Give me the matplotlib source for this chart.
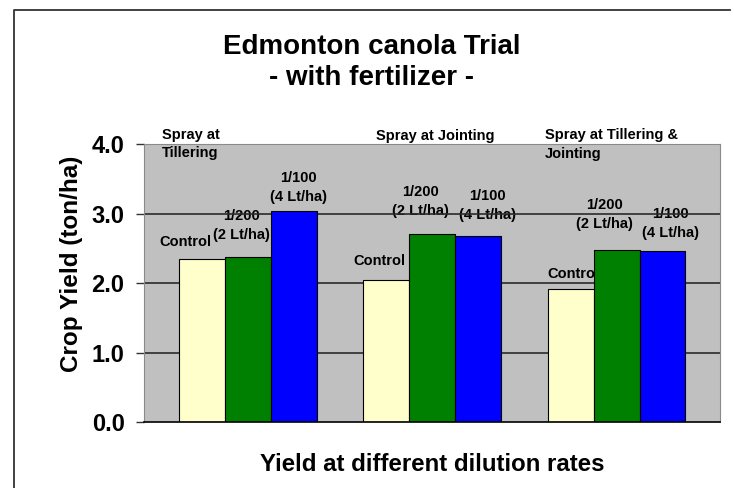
"""Edmonton canola trial: crop yield at different dilution rates (with fertilizer)."""

import matplotlib
matplotlib.use("Agg")
import matplotlib.pyplot as plt
from matplotlib.lines import Line2D
import numpy as np

plt.rcParams["font.family"] = ["Liberation Sans", "DejaVu Sans"]
plt.rcParams["font.weight"] = "bold"

# datos
grupos = ["Spray at\nTillering", "Spray at Jointing", "Spray at Tillering &\nJointing"]
tratamientos = ["Control", "1/200\n(2 Lt/ha)", "1/100\n(4 Lt/ha)"]
control = [2.35, 2.05, 1.92]
dil_200 = [2.37, 2.70, 2.48]
dil_100 = [3.04, 2.68, 2.46]
yticks = [0.0, 1.0, 2.0, 3.0, 4.0]

COLORES = ["#FFFFCC", "#008000", "#0000FF"]
ANCHO = 0.249

fig = plt.figure(figsize=(7.34, 4.88), dpi=100)
ax = fig.add_axes([0.1962, 0.1352, 0.7847, 0.5697])
ax.set_facecolor("#C0C0C0")

x = np.arange(len(grupos))
series = [control, dil_200, dil_100]
for i, (valores, color) in enumerate(zip(series, COLORES)):
    ax.bar(x + (i - 1) * ANCHO, valores, width=ANCHO, color=color,
           edgecolor="black", linewidth=0.8, zorder=2)

# líneas de la cuadrícula por encima del texto, por debajo de las barras
for y in yticks[1:-1]:
    ax.axhline(y, color="#2a2a2a", linewidth=1.2, zorder=1)

ax.set_xlim(-0.563, 2.561)
ax.set_ylim(0, 4.0)
ax.set_yticks(yticks)
ax.set_yticklabels([f"{v:.1f}" for v in yticks], fontsize=17, fontweight="bold")
ax.set_xticks([])
ax.tick_params(axis="y", direction="out", length=6, width=1, color="#333333", pad=8)
for lado in ["top", "right", "left"]:
    ax.spines[lado].set_color("#8a8a8a")
    ax.spines[lado].set_linewidth(0.8)
ax.spines["bottom"].set_color("black")
ax.spines["bottom"].set_linewidth(1.2)

ax.set_ylabel("Crop Yield (ton/ha)", fontsize=17.5, fontweight="bold", labelpad=8)
ax.yaxis.set_label_coords(-0.106, 0.568)
ax.set_xlabel("Yield at different dilution rates", fontsize=17.3, fontweight="bold", labelpad=22)

# etiquetas de grupo sobre el área del gráfico
pos_grupo = [(-0.468, 4.0), (-0.304, 4.115), (-0.388, 3.99)]
for g, (dx, y) in enumerate(pos_grupo):
    ax.text(x[g] + dx, y, grupos[g], fontsize=10.5, fontweight="bold",
            ha="left", va="center", clip_on=False, linespacing=1.45, zorder=0.5)

# etiquetas de tratamiento (detrás de las barras)
etq_pos = [
    [(-0.341, 2.59), (-0.035, 2.83), (0.276, 3.37)],
    [(-0.285, 2.32), (-0.065, 3.17), (0.30, 3.12)],
    [(-0.236, 2.13), (-0.068, 2.99), (0.29, 2.85)],
]
for g in range(len(grupos)):
    for t, (dx, y) in enumerate(etq_pos[g]):
        ax.text(x[g] + dx, y, tratamientos[t], fontsize=10.5, fontweight="bold",
                ha="center", va="center", zorder=0.5, linespacing=1.45)

fig.text(0.507, 0.903, "Edmonton canola Trial", fontsize=20, fontweight="bold",
         ha="center", va="center")
fig.text(0.506, 0.840, "- with fertilizer -", fontsize=20, fontweight="bold",
         ha="center", va="center")

# marco de la diapositiva
fig.add_artist(Line2D([14 / 734, 14 / 734, 730 / 734], [0, 1 - 10 / 488, 1 - 10 / 488],
                      transform=fig.transFigure, color="#333333", linewidth=1.3))

fig.savefig("out.png", dpi=100)
